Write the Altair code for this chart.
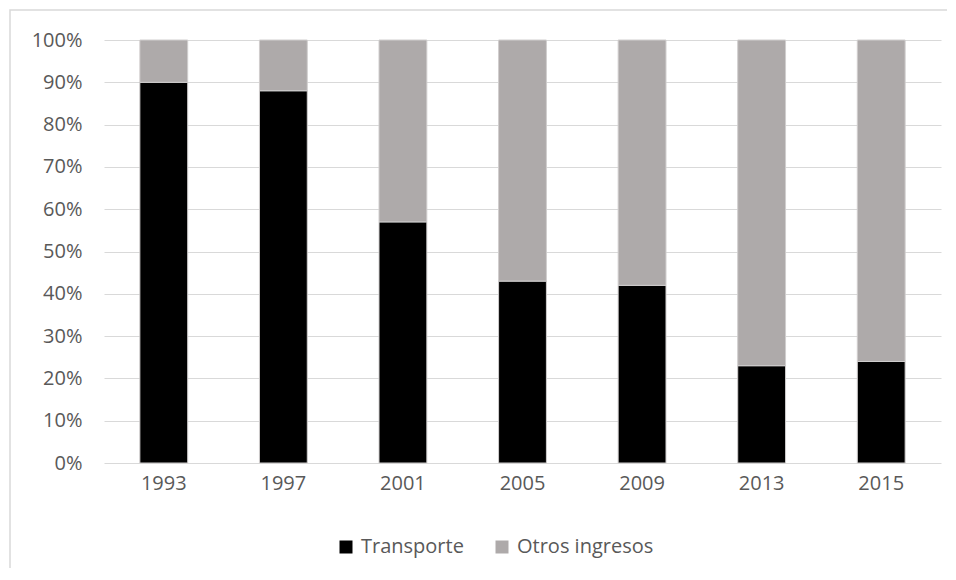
import altair as alt
import pandas as pd

years = ["1993", "1997", "2001", "2005", "2009", "2013", "2015"]
transporte = [90, 88, 57, 43, 42, 23, 24]
otros = [100 - v for v in transporte]
series = ["Transporte", "Otros ingresos"]
colors = ["#000000", "#AEAAAA"]

rows = []
for y, t, o in zip(years, transporte, otros):
    rows.append({"year": y, "serie": series[0], "value": t / 100, "ord": 0})
    rows.append({"year": y, "serie": series[1], "value": o / 100, "ord": 1})
df = pd.DataFrame(rows)

FONT = "Open Sans"
FS = 20
W, H = 837, 423

border = alt.Chart(pd.DataFrame({"a": [0]})).mark_rect(
    fill=None, stroke="#d9d9d9", strokeWidth=1.5
).encode(
    x=alt.value(-94), x2=alt.value(W + 60), y=alt.value(-30), y2=alt.value(H + 200)
)

bars = alt.Chart(df).mark_bar(stroke="#d0cece", strokeWidth=1).encode(
    x=alt.X("year:N", sort=years, title=None,
            scale=alt.Scale(paddingInner=0.6, paddingOuter=0.3),
            axis=alt.Axis(labelAngle=0, ticks=False, domain=False, grid=False,
                          labelPadding=10, labelFontSize=FS, labelFont=FONT,
                          labelColor="#595959")),
    y=alt.Y("value:Q", stack="zero", title=None,
            scale=alt.Scale(domain=[0, 1]),
            axis=alt.Axis(format=".0%", values=[i / 10 for i in range(11)],
                          ticks=False, domain=False, gridColor="#d9d9d9",
                          gridWidth=1.2, labelPadding=22, labelFontSize=FS,
                          labelFont=FONT, labelColor="#595959")),
    color=alt.Color("serie:N", sort=series,
                    scale=alt.Scale(domain=series, range=colors),
                    legend=alt.Legend(title=None, orient="none", direction="horizontal",
                                      legendX=232, legendY=497,
                                      symbolType="square", symbolSize=169,
                                      symbolStrokeWidth=0, labelFont=FONT,
                                      labelFontSize=FS, labelColor="#595959",
                                      labelOffset=5, columnPadding=28)),
    order=alt.Order("ord:Q"),
)

chart = alt.layer(border, bars).properties(
    width=W, height=H,
    autosize=alt.AutoSizeParams(type="none"),
    padding={"left": 96, "top": 32, "right": 6, "bottom": 105},
).configure_view(stroke=None)

chart.save("out.html", embed_options={"renderer": "svg", "actions": False})
